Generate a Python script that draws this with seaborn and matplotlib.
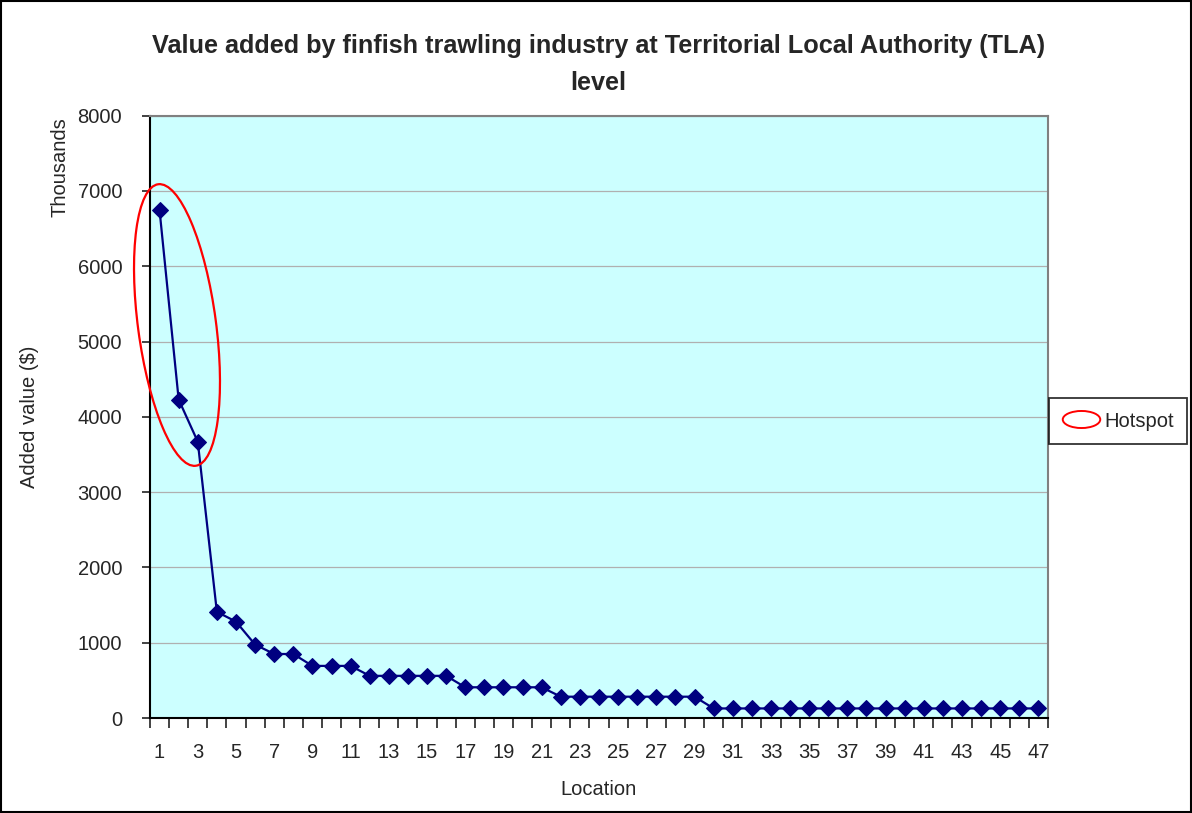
import numpy as np
import matplotlib
matplotlib.use("Agg")
import matplotlib.pyplot as plt
import seaborn as sns
from matplotlib import font_manager
from matplotlib.patches import Ellipse, Rectangle
from matplotlib.lines import Line2D
from matplotlib.path import Path
from matplotlib.transforms import Affine2D, IdentityTransform

# data (thousands of $)
locations = list(range(1, 48))
added_value = (
    [6745, 4230, 3670, 1410, 1280, 975, 850, 850]
    + [692] * 3
    + [560] * 5
    + [408] * 5
    + [283] * 8
    + [127] * 18
)
x_tick_labels = [str(i) for i in range(1, 48, 2)]
y_ticks = list(range(0, 8001, 1000))

sns.set_theme(style="white")
names = {f.name for f in font_manager.fontManager.ttflist}
FONT = "Liberation Sans Narrow" if "Liberation Sans Narrow" in names else "Liberation Sans"
plt.rcParams["font.family"] = [FONT, "DejaVu Sans"]

fig = plt.figure(figsize=(11.92, 8.13), dpi=100)
ax = fig.add_axes([150 / 1192, 95 / 813, 898 / 1192, 602.3 / 813])
ax.set_facecolor("#CCFFFF")

sns.lineplot(x=locations, y=added_value, ax=ax, color="#000080", lw=1.6,
             marker="D", markersize=8, markeredgecolor="#000080", zorder=3)

ax.set_xlim(0.5, 47.5)
ax.set_ylim(0, 8000)
ax.set_yticks(y_ticks)
ax.set_yticklabels([str(v) for v in y_ticks], fontsize=14.5)
ax.yaxis.grid(True, color="#B0B0B0", lw=0.9)
ax.set_axisbelow(True)

ax.set_xticks(range(1, 48, 2))
ax.set_xticklabels(x_tick_labels, fontsize=14.5)
ax.set_xticks(np.arange(0.5, 48, 1), minor=True)
ax.tick_params(axis="x", which="major", length=0, pad=18)
ax.tick_params(axis="x", which="minor", length=7, width=1.2, color="#222222", direction="out", bottom=True)
ax.tick_params(axis="y", which="major", length=6, width=1.2, color="#222222", direction="out", left=True, pad=14)

for s in ["left", "bottom"]:
    ax.spines[s].set_color("black")
    ax.spines[s].set_linewidth(1.5)
for s in ["top", "right"]:
    ax.spines[s].set_color("#808080")
    ax.spines[s].set_linewidth(1.5)

ax.set_xlabel("Location", fontsize=14.5, labelpad=13)
ax.set_ylabel("Added value ($)", fontsize=14.5, labelpad=28)
fig.text(60 / 1192, 1 - 167 / 813, "Thousands", rotation=90, fontsize=14.5,
         ha="center", va="center")

fig.suptitle("Value added by finfish trawling industry at Territorial Local Authority (TLA)\nlevel",
             fontsize=18.2, fontweight="bold", x=0.502, y=1 - 34 / 813, linespacing=1.7)

# hotspot ellipse around the first three locations (pixel space)
cx, cy = 177, 813 - 325
hot = Ellipse((cx, cy), width=284, height=78, angle=-82.4, transform=IdentityTransform(),
              fill=False, edgecolor="red", lw=1.6, clip_on=False, zorder=4)
fig.add_artist(hot)

ell_marker = Path.unit_circle().transformed(Affine2D().scale(2.2, 1.0))
handle = Line2D([], [], linestyle="none", marker=ell_marker, markersize=27,
                markerfacecolor="none", markeredgecolor="red", markeredgewidth=1.4)
leg = fig.legend([handle], ["Hotspot"], loc="center left",
                 bbox_to_anchor=(1049 / 1192, 1 - 421 / 813), fontsize=14.5,
                 frameon=True, fancybox=False, edgecolor="black", borderpad=0.65,
                 handletextpad=0.2, handlelength=1.9, borderaxespad=0)
leg.get_frame().set_linewidth(1.3)

# outer chart border
fig.add_artist(Rectangle((0.001, 0.001), 0.998, 0.998, transform=fig.transFigure,
                         fill=False, edgecolor="black", lw=1.5))

fig.savefig("out.png", dpi=100)
